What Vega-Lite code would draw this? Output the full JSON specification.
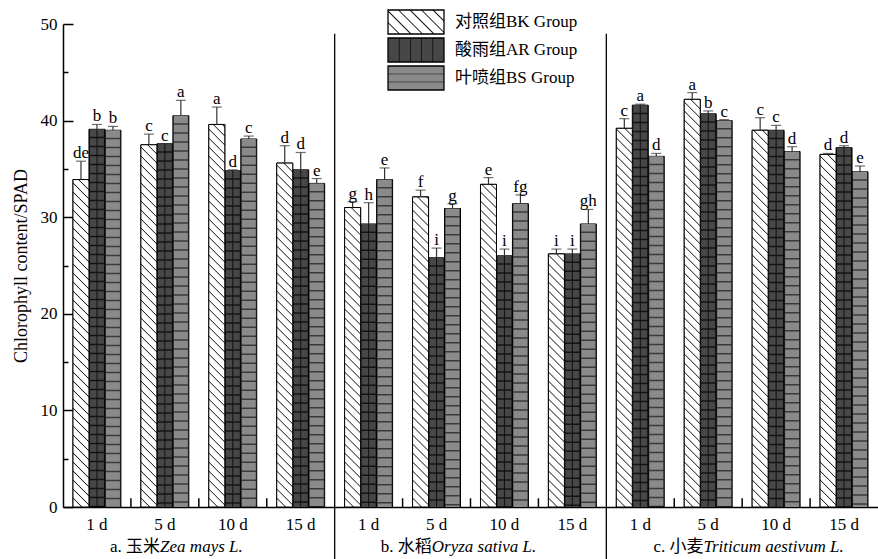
{
  "$schema": "https://vega.github.io/schema/vega-lite/v6.json",
  "width": 815,
  "height": 483,
  "autosize": {"type": "none"},
  "padding": {"left": 63, "top": 24, "right": 0, "bottom": 52},
  "background": "white",
  "config": {"view": {"stroke": null}, "font": "Liberation Serif"},
  "params": [
    {"name": "hatch", "value": [
      {"offset":0,"color":"#222"},{"offset":0.0025,"color":"#fff"},{"offset":0.0175,"color":"#fff"},
      {"offset":0.02,"color":"#222"},{"offset":0.0225,"color":"#fff"},{"offset":0.0375,"color":"#fff"},
      {"offset":0.04,"color":"#222"},{"offset":0.0425,"color":"#fff"},{"offset":0.0575,"color":"#fff"},
      {"offset":0.06,"color":"#222"},{"offset":0.0625,"color":"#fff"},{"offset":0.0775,"color":"#fff"},
      {"offset":0.08,"color":"#222"},{"offset":0.0825,"color":"#fff"},{"offset":0.0975,"color":"#fff"},
      {"offset":0.1,"color":"#222"},{"offset":0.1025,"color":"#fff"},{"offset":0.1175,"color":"#fff"},
      {"offset":0.12,"color":"#222"},{"offset":0.1225,"color":"#fff"},{"offset":0.1375,"color":"#fff"},
      {"offset":0.14,"color":"#222"},{"offset":0.1425,"color":"#fff"},{"offset":0.1575,"color":"#fff"},
      {"offset":0.16,"color":"#222"},{"offset":0.1625,"color":"#fff"},{"offset":0.1775,"color":"#fff"},
      {"offset":0.18,"color":"#222"},{"offset":0.1825,"color":"#fff"},{"offset":0.1975,"color":"#fff"},
      {"offset":0.2,"color":"#222"},{"offset":0.2025,"color":"#fff"},{"offset":0.2175,"color":"#fff"},
      {"offset":0.22,"color":"#222"},{"offset":0.2225,"color":"#fff"},{"offset":0.2375,"color":"#fff"},
      {"offset":0.24,"color":"#222"},{"offset":0.2425,"color":"#fff"},{"offset":0.2575,"color":"#fff"},
      {"offset":0.26,"color":"#222"},{"offset":0.2625,"color":"#fff"},{"offset":0.2775,"color":"#fff"},
      {"offset":0.28,"color":"#222"},{"offset":0.2825,"color":"#fff"},{"offset":0.2975,"color":"#fff"},
      {"offset":0.3,"color":"#222"},{"offset":0.3025,"color":"#fff"},{"offset":0.3175,"color":"#fff"},
      {"offset":0.32,"color":"#222"},{"offset":0.3225,"color":"#fff"},{"offset":0.3375,"color":"#fff"},
      {"offset":0.34,"color":"#222"},{"offset":0.3425,"color":"#fff"},{"offset":0.3575,"color":"#fff"},
      {"offset":0.36,"color":"#222"},{"offset":0.3625,"color":"#fff"},{"offset":0.3775,"color":"#fff"},
      {"offset":0.38,"color":"#222"},{"offset":0.3825,"color":"#fff"},{"offset":0.3975,"color":"#fff"},
      {"offset":0.4,"color":"#222"},{"offset":0.4025,"color":"#fff"},{"offset":0.4175,"color":"#fff"},
      {"offset":0.42,"color":"#222"},{"offset":0.4225,"color":"#fff"},{"offset":0.4375,"color":"#fff"},
      {"offset":0.44,"color":"#222"},{"offset":0.4425,"color":"#fff"},{"offset":0.4575,"color":"#fff"},
      {"offset":0.46,"color":"#222"},{"offset":0.4625,"color":"#fff"},{"offset":0.4775,"color":"#fff"},
      {"offset":0.48,"color":"#222"},{"offset":0.4825,"color":"#fff"},{"offset":0.4975,"color":"#fff"},
      {"offset":0.5,"color":"#222"},{"offset":0.5025,"color":"#fff"},{"offset":0.5175,"color":"#fff"},
      {"offset":0.52,"color":"#222"},{"offset":0.5225,"color":"#fff"},{"offset":0.5375,"color":"#fff"},
      {"offset":0.54,"color":"#222"},{"offset":0.5425,"color":"#fff"},{"offset":0.5575,"color":"#fff"},
      {"offset":0.56,"color":"#222"},{"offset":0.5625,"color":"#fff"},{"offset":0.5775,"color":"#fff"},
      {"offset":0.58,"color":"#222"},{"offset":0.5825,"color":"#fff"},{"offset":0.5975,"color":"#fff"},
      {"offset":0.6,"color":"#222"},{"offset":0.6025,"color":"#fff"},{"offset":0.6175,"color":"#fff"},
      {"offset":0.62,"color":"#222"},{"offset":0.6225,"color":"#fff"},{"offset":0.6375,"color":"#fff"},
      {"offset":0.64,"color":"#222"},{"offset":0.6425,"color":"#fff"},{"offset":0.6575,"color":"#fff"},
      {"offset":0.66,"color":"#222"},{"offset":0.6625,"color":"#fff"},{"offset":0.6775,"color":"#fff"},
      {"offset":0.68,"color":"#222"},{"offset":0.6825,"color":"#fff"},{"offset":0.6975,"color":"#fff"},
      {"offset":0.7,"color":"#222"},{"offset":0.7025,"color":"#fff"},{"offset":0.7175,"color":"#fff"},
      {"offset":0.72,"color":"#222"},{"offset":0.7225,"color":"#fff"},{"offset":0.7375,"color":"#fff"},
      {"offset":0.74,"color":"#222"},{"offset":0.7425,"color":"#fff"},{"offset":0.7575,"color":"#fff"},
      {"offset":0.76,"color":"#222"},{"offset":0.7625,"color":"#fff"},{"offset":0.7775,"color":"#fff"},
      {"offset":0.78,"color":"#222"},{"offset":0.7825,"color":"#fff"},{"offset":0.7975,"color":"#fff"},
      {"offset":0.8,"color":"#222"},{"offset":0.8025,"color":"#fff"},{"offset":0.8175,"color":"#fff"},
      {"offset":0.82,"color":"#222"},{"offset":0.8225,"color":"#fff"},{"offset":0.8375,"color":"#fff"},
      {"offset":0.84,"color":"#222"},{"offset":0.8425,"color":"#fff"},{"offset":0.8575,"color":"#fff"},
      {"offset":0.86,"color":"#222"},{"offset":0.8625,"color":"#fff"},{"offset":0.8775,"color":"#fff"},
      {"offset":0.88,"color":"#222"},{"offset":0.8825,"color":"#fff"},{"offset":0.8975,"color":"#fff"},
      {"offset":0.9,"color":"#222"},{"offset":0.9025,"color":"#fff"},{"offset":0.9175,"color":"#fff"},
      {"offset":0.92,"color":"#222"},{"offset":0.9225,"color":"#fff"},{"offset":0.9375,"color":"#fff"},
      {"offset":0.94,"color":"#222"},{"offset":0.9425,"color":"#fff"},{"offset":0.9575,"color":"#fff"},
      {"offset":0.96,"color":"#222"},{"offset":0.9625,"color":"#fff"}
    ]}
  ],
  "datasets": {
    "spad": [
      {"grp":"a|1 d","g":"对照组BK Group","v":33.9,"up":35.8,"sig":"de"},
      {"grp":"a|1 d","g":"酸雨组AR Group","v":39.1,"up":39.6,"sig":"b"},
      {"grp":"a|1 d","g":"叶喷组BS Group","v":39.0,"up":39.4,"sig":"b"},
      {"grp":"a|5 d","g":"对照组BK Group","v":37.5,"up":38.6,"sig":"c"},
      {"grp":"a|5 d","g":"酸雨组AR Group","v":37.6,"up":37.6,"sig":"c"},
      {"grp":"a|5 d","g":"叶喷组BS Group","v":40.5,"up":42.1,"sig":"a"},
      {"grp":"a|10 d","g":"对照组BK Group","v":39.6,"up":41.4,"sig":"a"},
      {"grp":"a|10 d","g":"酸雨组AR Group","v":34.8,"up":34.9,"sig":"d"},
      {"grp":"a|10 d","g":"叶喷组BS Group","v":38.1,"up":38.4,"sig":"c"},
      {"grp":"a|15 d","g":"对照组BK Group","v":35.6,"up":37.4,"sig":"d"},
      {"grp":"a|15 d","g":"酸雨组AR Group","v":34.9,"up":36.7,"sig":"d"},
      {"grp":"a|15 d","g":"叶喷组BS Group","v":33.5,"up":34.0,"sig":"e"},
      {"grp":"b|1 d","g":"对照组BK Group","v":31.0,"up":31.6,"sig":"g"},
      {"grp":"b|1 d","g":"酸雨组AR Group","v":29.3,"up":31.5,"sig":"h"},
      {"grp":"b|1 d","g":"叶喷组BS Group","v":33.9,"up":35.1,"sig":"e"},
      {"grp":"b|5 d","g":"对照组BK Group","v":32.1,"up":32.8,"sig":"f"},
      {"grp":"b|5 d","g":"酸雨组AR Group","v":25.8,"up":26.8,"sig":"i"},
      {"grp":"b|5 d","g":"叶喷组BS Group","v":30.9,"up":31.4,"sig":"g"},
      {"grp":"b|10 d","g":"对照组BK Group","v":33.4,"up":34.1,"sig":"e"},
      {"grp":"b|10 d","g":"酸雨组AR Group","v":26.0,"up":26.7,"sig":"i"},
      {"grp":"b|10 d","g":"叶喷组BS Group","v":31.4,"up":32.3,"sig":"fg"},
      {"grp":"b|15 d","g":"对照组BK Group","v":26.2,"up":26.7,"sig":"i"},
      {"grp":"b|15 d","g":"酸雨组AR Group","v":26.2,"up":26.7,"sig":"i"},
      {"grp":"b|15 d","g":"叶喷组BS Group","v":29.3,"up":30.8,"sig":"gh"},
      {"grp":"c|1 d","g":"对照组BK Group","v":39.2,"up":40.2,"sig":"c"},
      {"grp":"c|1 d","g":"酸雨组AR Group","v":41.6,"up":41.7,"sig":"a"},
      {"grp":"c|1 d","g":"叶喷组BS Group","v":36.3,"up":36.6,"sig":"d"},
      {"grp":"c|5 d","g":"对照组BK Group","v":42.2,"up":42.9,"sig":"a"},
      {"grp":"c|5 d","g":"酸雨组AR Group","v":40.7,"up":41.0,"sig":"b"},
      {"grp":"c|5 d","g":"叶喷组BS Group","v":40.0,"up":40.1,"sig":"c"},
      {"grp":"c|10 d","g":"对照组BK Group","v":39.0,"up":40.3,"sig":"c"},
      {"grp":"c|10 d","g":"酸雨组AR Group","v":39.0,"up":39.5,"sig":"c"},
      {"grp":"c|10 d","g":"叶喷组BS Group","v":36.8,"up":37.3,"sig":"d"},
      {"grp":"c|15 d","g":"对照组BK Group","v":36.5,"up":36.6,"sig":"d"},
      {"grp":"c|15 d","g":"酸雨组AR Group","v":37.2,"up":37.4,"sig":"d"},
      {"grp":"c|15 d","g":"叶喷组BS Group","v":34.7,"up":35.3,"sig":"e"}
    ],
    "dividers": [
      {"grp":"b|1 d","top":49,"bot":-5.4},
      {"grp":"c|1 d","top":49,"bot":-5.4}
    ],
    "gaps": [
      {"grp":"a|5 d","lo":0,"hi":0.9},{"grp":"a|10 d","lo":0,"hi":0.9},{"grp":"a|15 d","lo":0,"hi":0.9},
      {"grp":"b|5 d","lo":0,"hi":0.9},{"grp":"b|10 d","lo":0,"hi":0.9},{"grp":"b|15 d","lo":0,"hi":0.9},
      {"grp":"c|5 d","lo":0,"hi":0.9},{"grp":"c|10 d","lo":0,"hi":0.9},{"grp":"c|15 d","lo":0,"hi":0.9}
    ],
    "crops": [
      {"grp":"a|5 d","pre":"a. 玉米","sp":"Zea mays L."},
      {"grp":"b|5 d","pre":"b. 水稻","sp":"Oryza sativa L."},
      {"grp":"c|5 d","pre":"c. 小麦","sp":"Triticum aestivum L."}
    ]
  },
  "data": {"name": "spad"},
  "resolve": {"axis": {"y": "independent"}},
  "layer": [
    {
      "mark": {"type": "bar", "stroke": "#000", "strokeWidth": 1,
        "fill": {"expr": "indexof(datum.g, 'AR') >= 0 ? '#141414' : indexof(datum.g, 'BS') >= 0 ? '#3a3a3a' : '#ffffff'"}},
      "encoding": {
        "x": {
          "field": "grp", "type": "nominal",
          "scale": {"domain": ["a|1 d","a|5 d","a|10 d","a|15 d","b|1 d","b|5 d","b|10 d","b|15 d","c|1 d","c|5 d","c|10 d","c|15 d"], "paddingInner": 0, "paddingOuter": 0},
          "axis": {"title": null, "ticks": false, "domainColor": "#000", "domainWidth": 1.5, "labelExpr": "split(datum.value, '|')[1]", "labelAngle": 0, "labelFontSize": 17, "labelColor": "#000", "labelPadding": 9, "labelFont": "Liberation Serif"}
        },
        "xOffset": {"field": "g", "type": "nominal", "scale": {"domain": ["对照组BK Group","酸雨组AR Group","叶喷组BS Group"], "paddingOuter": 0.625, "paddingInner": 0}},
        "y": {
          "field": "v", "type": "quantitative",
          "scale": {"domain": [0, 50], "nice": false},
          "axis": {"orient": "left", "values": [0,10,20,30,40,50], "tickSize": -10, "tickColor": "#000", "tickWidth": 1.5, "domainColor": "#000", "domainWidth": 1.5, "grid": false, "labelFontSize": 17, "labelColor": "#000", "labelPadding": 16, "labelFont": "Liberation Serif", "title": "Chlorophyll content/SPAD", "titleFont": "Liberation Serif", "titleFontSize": 18, "titleFontWeight": "normal", "titleColor": "#000", "titlePadding": 10}
        }
      }
    },
    {
      "transform": [{"filter": "indexof(datum.g, 'BK') >= 0"}],
      "mark": {"type": "bar", "stroke": "#000", "strokeWidth": 1,
        "fill": {"expr": "{gradient:'linear', x1:0, y1:1, x2: bandwidth('xOffset')*450/(pow(bandwidth('xOffset'),2)+pow(scale('y',0)-scale('y',datum.v),2)), y2: 1-(scale('y',0)-scale('y',datum.v))*450/(pow(bandwidth('xOffset'),2)+pow(scale('y',0)-scale('y',datum.v),2)), stops: hatch}"}},
      "encoding": {
        "x": {"field": "grp", "type": "nominal"},
        "xOffset": {"field": "g", "type": "nominal"},
        "y": {"field": "v", "type": "quantitative", "axis": null}
      }
    },
    {
      "transform": [{"filter": "indexof(datum.g, 'AR') >= 0"}],
      "mark": {"type": "rule", "strokeWidth": 14, "strokeDash": [7.5, 1.5], "color": "#474747"},
      "encoding": {
        "x": {"field": "grp", "type": "nominal"},
        "xOffset": {"field": "g", "type": "nominal"},
        "y": {"field": "v", "type": "quantitative", "axis": null},
        "y2": {"datum": 0}
      }
    },
    {
      "transform": [{"filter": "indexof(datum.g, 'BS') >= 0"}],
      "mark": {"type": "rule", "strokeWidth": 14, "strokeDash": [7.5, 1.5], "color": "#8a8a8a"},
      "encoding": {
        "x": {"field": "grp", "type": "nominal"},
        "xOffset": {"field": "g", "type": "nominal"},
        "y": {"field": "v", "type": "quantitative", "axis": null},
        "y2": {"datum": 0}
      }
    },
    {
      "transform": [{"filter": "indexof(datum.g, 'AR') >= 0"}],
      "mark": {"type": "rule", "strokeWidth": 1, "color": "#111"},
      "encoding": {
        "x": {"field": "grp", "type": "nominal"},
        "xOffset": {"field": "g", "type": "nominal"},
        "y": {"field": "v", "type": "quantitative", "axis": null},
        "y2": {"datum": 0}
      }
    },
    {
      "mark": {"type": "bar", "opacity": 0},
      "encoding": {
        "x": {"field": "grp", "type": "nominal"},
        "xOffset": {"field": "g", "type": "nominal"},
        "y": {"field": "v", "type": "quantitative", "axis": null},
        "fill": {
          "field": "g", "type": "nominal",
          "scale": {
            "domain": ["对照组BK Group","酸雨组AR Group","叶喷组BS Group"],
            "range": [
              {"expr": "{gradient:'linear',x1:0,y1:1,x2:8.675,y2:-2.718,stops:hatch}"},
              {"expr": "{gradient:'linear',x1:0,y1:0,x2:1,y2:0,stops:[{offset:0,color:'#474747'},{offset:0.185,color:'#474747'},{offset:0.2,color:'#111'},{offset:0.215,color:'#474747'},{offset:0.385,color:'#474747'},{offset:0.4,color:'#111'},{offset:0.415,color:'#474747'},{offset:0.585,color:'#474747'},{offset:0.6,color:'#111'},{offset:0.615,color:'#474747'},{offset:0.785,color:'#474747'},{offset:0.8,color:'#111'},{offset:0.815,color:'#474747'},{offset:1,color:'#474747'}]}"},
              {"expr": "{gradient:'linear',x1:0,y1:0,x2:0,y2:1,stops:[{offset:0,color:'#8a8a8a'},{offset:0.3,color:'#8a8a8a'},{offset:0.333,color:'#333'},{offset:0.366,color:'#8a8a8a'},{offset:0.633,color:'#8a8a8a'},{offset:0.666,color:'#333'},{offset:0.7,color:'#8a8a8a'},{offset:1,color:'#8a8a8a'}]}"}
            ]
          },
          "legend": {
            "orient": "none", "legendX": 340, "legendY": -15, "title": null, "padding": 0,
            "symbolType": "M-2.333,-1H2.333V1H-2.333Z", "symbolSize": 576, "symbolOpacity": 1,
            "labelFont": "Liberation Serif, Noto Sans CJK SC", "labelFontSize": 17, "labelColor": "#000",
            "labelOffset": 26, "rowPadding": -2,
            "encode": {"symbols": {"update": {
              "stroke": {"value": "#000"},
              "strokeWidth": {"value": 1.3},
              "opacity": {"value": 1}
            }}}
          }
        }
      }
    },
    {
      "mark": {"type": "rule", "strokeWidth": 1.2, "color": "#333"},
      "encoding": {
        "x": {"field": "grp", "type": "nominal"},
        "xOffset": {"field": "g", "type": "nominal"},
        "y": {"field": "v", "type": "quantitative", "axis": null},
        "y2": {"field": "up"}
      }
    },
    {
      "mark": {"type": "tick", "orient": "horizontal", "size": 10, "thickness": 1.2, "color": "#333"},
      "encoding": {
        "x": {"field": "grp", "type": "nominal"},
        "xOffset": {"field": "g", "type": "nominal"},
        "y": {"field": "up", "type": "quantitative", "axis": null}
      }
    },
    {
      "mark": {"type": "text", "baseline": "alphabetic", "dy": -3, "fontSize": 17, "font": "Liberation Serif", "color": "#000"},
      "encoding": {
        "x": {"field": "grp", "type": "nominal"},
        "xOffset": {"field": "g", "type": "nominal"},
        "y": {"field": "up", "type": "quantitative", "axis": null},
        "text": {"field": "sig"}
      }
    },
    {
      "data": {"name": "dividers"},
      "mark": {"type": "rule", "strokeWidth": 1.3, "color": "#000"},
      "encoding": {
        "x": {"field": "grp", "type": "nominal", "bandPosition": 0},
        "y": {"field": "top", "type": "quantitative", "axis": null},
        "y2": {"field": "bot"}
      }
    },
    {
      "data": {"name": "gaps"},
      "mark": {"type": "rule", "strokeWidth": 1.5, "color": "#000"},
      "encoding": {
        "x": {"field": "grp", "type": "nominal", "bandPosition": 0},
        "y": {"field": "lo", "type": "quantitative",
          "axis": {"orient": "left", "values": [5,15,25,35,45], "tickSize": -5, "tickColor": "#000", "tickWidth": 1.5, "labels": false, "domain": false, "grid": false, "title": null}},
        "y2": {"field": "hi"}
      }
    },
    {
      "data": {"name": "crops"},
      "mark": {"type": "text", "align": "right", "baseline": "alphabetic", "fontSize": 17, "font": "Liberation Serif, Noto Sans CJK SC", "color": "#000"},
      "encoding": {
        "x": {"field": "grp", "type": "nominal", "bandPosition": 0.43},
        "y": {"datum": -4.7, "type": "quantitative", "axis": null},
        "text": {"field": "pre"}
      }
    },
    {
      "data": {"name": "crops"},
      "mark": {"type": "text", "align": "left", "baseline": "alphabetic", "fontSize": 17, "fontStyle": "italic", "font": "Liberation Serif", "color": "#000"},
      "encoding": {
        "x": {"field": "grp", "type": "nominal", "bandPosition": 0.43},
        "y": {"datum": -4.7, "type": "quantitative", "axis": null},
        "text": {"field": "sp"}
      }
    }
  ]
}
